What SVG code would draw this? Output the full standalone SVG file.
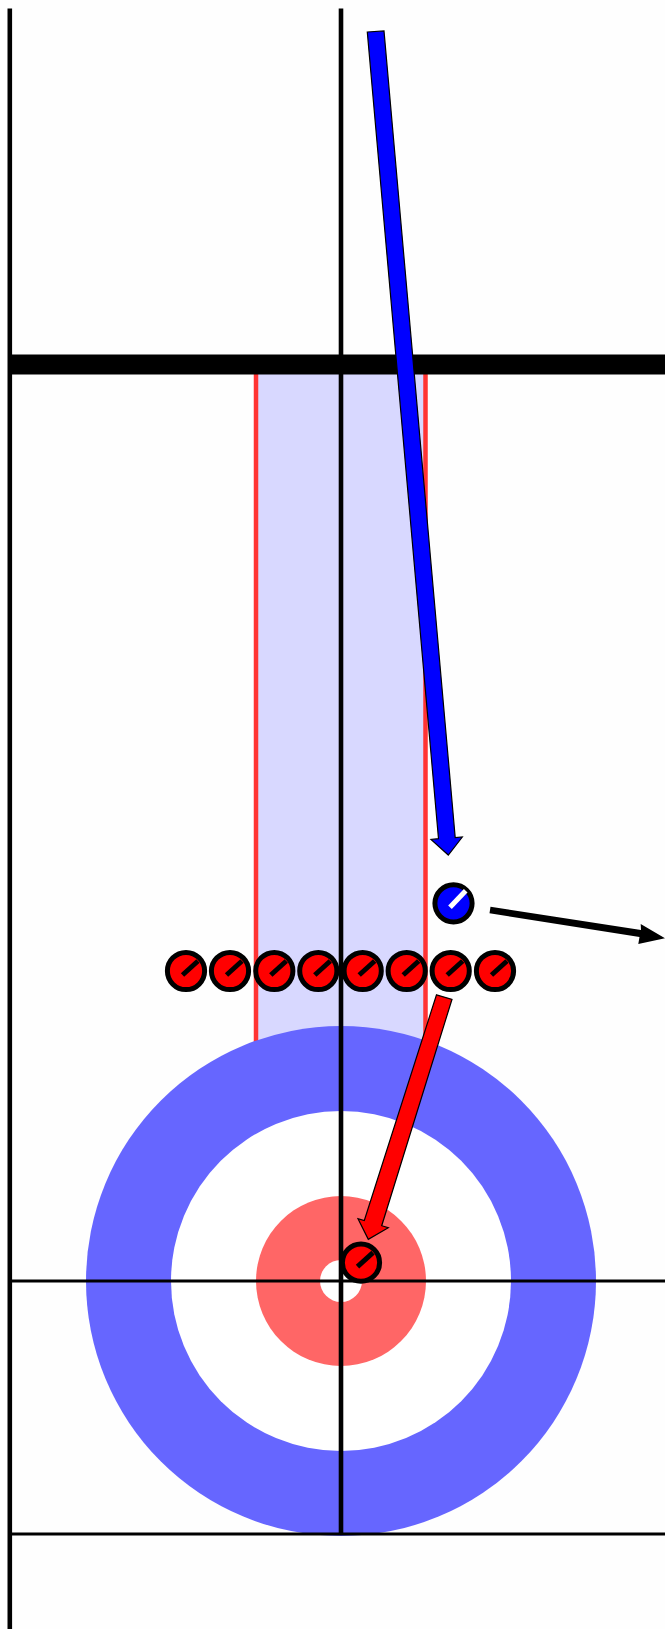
<svg xmlns="http://www.w3.org/2000/svg" width="665" height="1629" viewBox="0 0 665 1629">
<defs>
<style>
.guard{stroke:#ff3333;stroke-width:4.5;fill:none}
.ln{stroke:#000;fill:none}
.arr{stroke:#000;stroke-width:1.2;stroke-linejoin:miter}
.body{stroke:#000;stroke-width:5}
.red{fill:#ff0000}
.blue{fill:#0000ff}
.h{stroke:#000;stroke-width:5;fill:none}
.hw{stroke:#fff;stroke-width:5;fill:none}
</style>
<g id="rs"><circle class="body red" r="18.6"/><path class="h" d="M-3.5 4 L12 -10"/></g>
</defs>
<rect width="665" height="1629" fill="#fefefe"/>
<g id="sheet">
<rect x="256" y="374" width="170" height="680" fill="#d8d8ff"/>
<path class="guard" d="M256 374V1054M425.5 374V1054"/>
<circle cx="341" cy="1281" r="255" fill="#6666ff"/>
<circle cx="341" cy="1281" r="170" fill="#ffffff"/>
<circle cx="341" cy="1281" r="85" fill="#ff6666"/>
<circle cx="341" cy="1281" r="21" fill="#ffffff"/>
<path class="ln" stroke-width="4.6" d="M9.8 8.5V1629M341 8.5V1533.5"/>
<path class="ln" stroke-width="20" d="M8 364.5H665"/>
<path class="ln" stroke-width="3" d="M10 1281H665M10 1534H665"/>
</g>
<g id="stone-r1"><use href="#rs" x="186" y="971"/></g>
<g id="stone-r2"><use href="#rs" x="230" y="971"/></g>
<g id="stone-r3"><use href="#rs" x="274.3" y="971"/></g>
<g id="stone-r4"><use href="#rs" x="318.3" y="971"/></g>
<g id="stone-r5"><use href="#rs" x="362.7" y="971"/></g>
<g id="stone-r6"><use href="#rs" x="406.7" y="971"/></g>
<g id="stone-r7"><use href="#rs" x="450.7" y="971"/></g>
<g id="stone-r8"><use href="#rs" x="495" y="971"/></g>
<g id="stone-house"><use href="#rs" x="361" y="1262.7"/></g>
<g id="stone-blue" transform="translate(453.5 903.3)"><circle class="body blue" r="18.6"/><path class="hw" d="M-3.5 4 L12.2 -12.6"/></g>
<g id="connectors">
<polygon class="arr blue" points="367.3,32 384,31 455.2,837.5 462.3,837 448.3,855 431,839.5 438.5,838.7"/>
<polygon class="arr red" points="436.5,994.8 452,999.3 381.7,1225.7 388.3,1227.7 368.3,1239.3 358,1218.7 364.3,1220.5"/>
<polygon fill="#000" points="490.5,906.7 641,930 640.7,924 665,938.3 638.3,944 639.5,937 489.5,913.3"/>
</g>
</svg>
